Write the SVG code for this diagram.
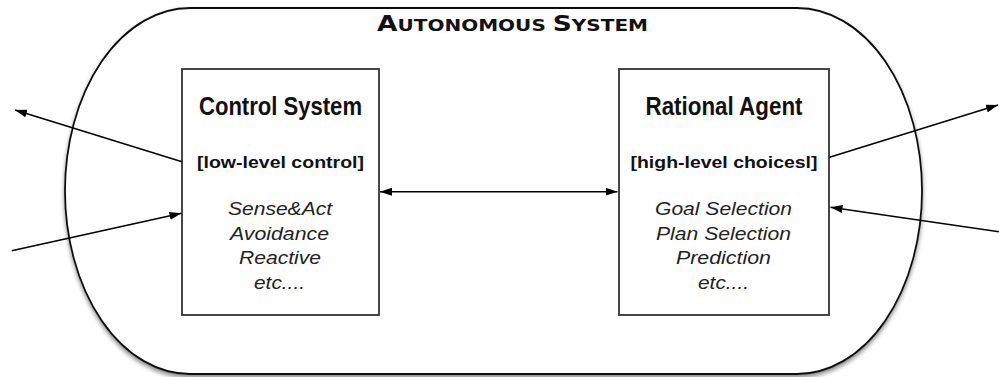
<svg xmlns="http://www.w3.org/2000/svg" width="999" height="377" viewBox="0 0 999 377">
<defs>
<filter id="sh" x="-5%" y="-5%" width="110%" height="115%">
<feDropShadow dx="0" dy="3" stdDeviation="2" flood-color="#000" flood-opacity="0.45"/>
</filter>
<marker id="ah" viewBox="0 0 12 8" refX="12" refY="4" markerWidth="12" markerHeight="8" markerUnits="userSpaceOnUse" orient="auto-start-reverse">
<path d="M0,0 L12,4 L0,8 Z" fill="#000"/>
</marker>
<style>
.box{fill:#fff;stroke:#333;stroke-width:1.8}
.title{font-family:"Liberation Sans",Arial,sans-serif;font-weight:bold;font-size:25.5px;text-anchor:middle;fill:#111}
.sub{font-family:"Liberation Sans",Arial,sans-serif;font-weight:bold;font-size:16.5px;text-anchor:middle;fill:#111}
.it{font-family:"Liberation Sans",Arial,sans-serif;font-style:italic;font-size:19px;text-anchor:middle;fill:#222}
.conn{stroke:#000;stroke-width:1.5;fill:none}
.sys{font-family:"DejaVu Sans","Liberation Sans",sans-serif;font-weight:bold;fill:#111}
</style>
</defs>
<g id="autonomous-system">
<rect x="65" y="8" width="857" height="366" rx="125" ry="183" fill="#fff" stroke="#111" stroke-width="1.8" filter="url(#sh)"/>
<text class="sys" x="377" y="31" textLength="271" lengthAdjust="spacingAndGlyphs"><tspan font-size="20.5">A</tspan><tspan font-size="15.5">UTONOMOUS </tspan><tspan font-size="20.5">S</tspan><tspan font-size="15.5">YSTEM</tspan></text>
</g>
<g id="control-system">
<rect class="box" x="182" y="69" width="197" height="246"/>
<text class="title" x="280.5" y="115" textLength="163" lengthAdjust="spacingAndGlyphs">Control System</text>
<text class="sub" x="280.5" y="168" textLength="167" lengthAdjust="spacingAndGlyphs">[low-level control]</text>
<text class="it" x="280" y="215" textLength="104" lengthAdjust="spacingAndGlyphs">Sense&amp;Act</text>
<text class="it" x="279.5" y="240" textLength="99" lengthAdjust="spacingAndGlyphs">Avoidance</text>
<text class="it" x="280" y="264" textLength="82" lengthAdjust="spacingAndGlyphs">Reactive</text>
<text class="it" x="279.5" y="289" textLength="51" lengthAdjust="spacingAndGlyphs">etc....</text>
</g>
<g id="rational-agent">
<rect class="box" x="619" y="69" width="210" height="246"/>
<text class="title" x="724" y="115" textLength="157" lengthAdjust="spacingAndGlyphs">Rational Agent</text>
<text class="sub" x="724" y="168" textLength="187" lengthAdjust="spacingAndGlyphs">[high-level choicesl]</text>
<text class="it" x="723.5" y="215" textLength="137" lengthAdjust="spacingAndGlyphs">Goal Selection</text>
<text class="it" x="723.5" y="240" textLength="135" lengthAdjust="spacingAndGlyphs">Plan Selection</text>
<text class="it" x="723.5" y="264" textLength="95" lengthAdjust="spacingAndGlyphs">Prediction</text>
<text class="it" x="723.5" y="289" textLength="51" lengthAdjust="spacingAndGlyphs">etc....</text>
</g>
<g id="connectors">
<line class="conn" x1="182" y1="161.7" x2="15" y2="110" marker-end="url(#ah)"/>
<line class="conn" x1="11.7" y1="250.7" x2="181.5" y2="213.3" marker-end="url(#ah)"/>
<line class="conn" x1="380" y1="191.7" x2="617.5" y2="191.7" marker-start="url(#ah)" marker-end="url(#ah)"/>
<line class="conn" x1="829.5" y1="157.3" x2="998" y2="105" marker-end="url(#ah)"/>
<line class="conn" x1="999" y1="231.7" x2="830.5" y2="207.3" marker-end="url(#ah)"/>
</g>
</svg>
